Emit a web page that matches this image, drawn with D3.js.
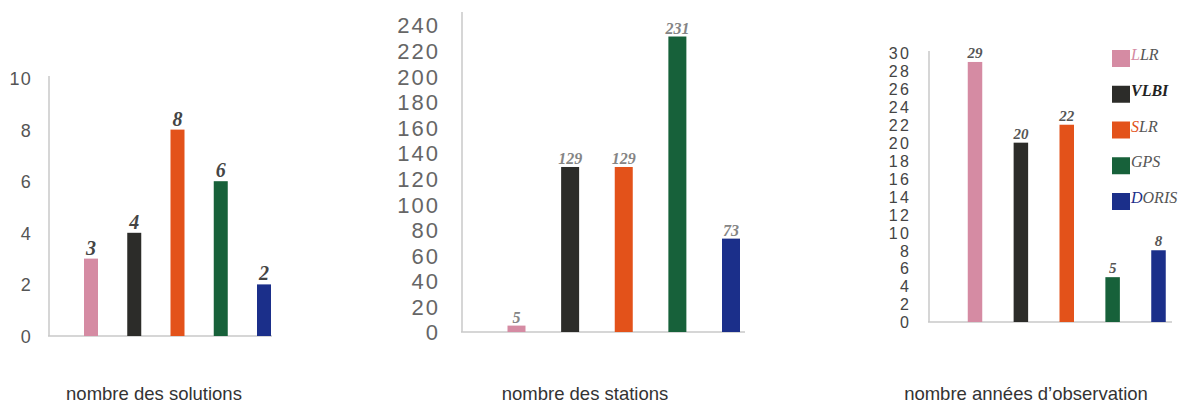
<!DOCTYPE html>
<html><head><meta charset="utf-8">
<script src="https://cdn.jsdelivr.net/npm/d3@7"></script>
<style>
html,body{margin:0;padding:0;background:#fff;}
svg{display:block;}
</style></head>
<body>
<script>
// ---- data ----
const categories = ["LLR", "VLBI", "SLR", "GPS", "DORIS"];
const solutions = [3, 4, 8, 6, 2];
const stations = [5, 129, 129, 231, 73];
const years = [29, 20, 22, 5, 8];
const solutionTicks = [0, 2, 4, 6, 8, 10];
const stationTicks = [0, 20, 40, 60, 80, 100, 120, 140, 160, 180, 200, 220, 240];
const yearTicks = [0, 2, 4, 6, 8, 10, 12, 14, 16, 18, 20, 22, 24, 26, 28, 30];
const titles = ["nombre des solutions", "nombre des stations", "nombre années d’observation"];

// ---- style ----
const colors = ["#d58ba3", "#2c2c29", "#e3521a", "#17613a", "#1b2f8a"];
const accent = [true, false, true, false, true];

const W = 1190, H = 405;
const svg = d3.select("body").append("svg").attr("width", W).attr("height", H);

const panels = [
  { values: solutions, ticks: solutionTicks, domain: [0, 10], axisX: 49, axisTop: 76, base: 336, top: 78,
    x0: 91, x1: 264, barW: 14, baseEnd: 272, tickGap: 17, tickSize: 18, tickSpace: 1.2, tickColor: "#555",
    valSize: 20, valColor: "#444", valGap: 4, title: titles[0], titleX: 154 },
  { values: stations, ticks: stationTicks, domain: [0, 240], axisX: 462, axisTop: 12, base: 332, top: 25,
    x0: 516.5, x1: 731, barW: 18, baseEnd: 745, tickGap: 22, tickSize: 22, tickSpace: 2, tickColor: "#666",
    valSize: 16, valColor: "#858585", valGap: 3, title: titles[1], titleX: 585 },
  { values: years, ticks: yearTicks, domain: [0, 30], axisX: 929, axisTop: 51, base: 322, top: 53,
    x0: 975, x1: 1158.5, barW: 14.5, baseEnd: 1172, tickGap: 18, tickSize: 16, tickSpace: 2.2, tickColor: "#444",
    valSize: 15, valColor: "#555", valGap: 4, title: titles[2], titleX: 1026 }
];

panels.forEach(p => {
  const g = svg.append("g");
  const y = d3.scaleLinear().domain(p.domain).range([p.base, p.top]);
  const x = d3.scalePoint().domain(categories).range([p.x0, p.x1]);

  const ax = g.append("g").attr("transform", `translate(${p.axisX - p.tickGap},0)`)
    .call(d3.axisLeft(y).tickValues(p.ticks).tickSize(0).tickPadding(0));
  ax.select(".domain").remove();
  ax.selectAll("text")
    .attr("fill", p.tickColor)
    .style("font-family", "'Liberation Sans', Arial, sans-serif")
    .style("font-size", p.tickSize + "px")
    .style("letter-spacing", p.tickSpace + "px")
    .attr("dy", "0.36em");

  g.append("line").attr("x1", p.axisX).attr("x2", p.axisX).attr("y1", p.axisTop).attr("y2", p.base)
    .attr("stroke", "#c8c8c8").attr("stroke-width", 1.5);
  g.append("line").attr("x1", p.axisX - 1).attr("x2", p.baseEnd).attr("y1", p.base).attr("y2", p.base)
    .attr("stroke", "#c8c8c8").attr("stroke-width", 1.5);

  g.selectAll("rect.bar").data(p.values).join("rect")
    .attr("class", "bar")
    .attr("x", (d, i) => x(categories[i]) - p.barW / 2)
    .attr("width", p.barW)
    .attr("y", d => y(d))
    .attr("height", d => y(0) - y(d))
    .attr("fill", (d, i) => colors[i]);

  g.selectAll("text.val").data(p.values).join("text")
    .attr("class", "val")
    .attr("x", (d, i) => x(categories[i]))
    .attr("y", d => y(d) - p.valGap)
    .attr("text-anchor", "middle")
    .attr("fill", p.valColor)
    .style("font-family", "'Liberation Serif', 'Times New Roman', serif")
    .style("font-style", "italic")
    .style("font-weight", "bold")
    .style("font-size", p.valSize + "px")
    .text(d => d);

  g.append("text").attr("x", p.titleX).attr("y", 400).attr("text-anchor", "middle")
    .attr("fill", "#333")
    .style("font-family", "'Liberation Sans', Arial, sans-serif")
    .style("font-size", "18.5px")
    .text(p.title);
});

// legend
const leg = svg.append("g").attr("transform", "translate(1112,50)");
const legY = d3.scalePoint().domain(categories).range([0, 143]);
categories.forEach((c, i) => {
  const gi = leg.append("g").attr("transform", `translate(0,${legY(c)})`);
  gi.append("rect").attr("width", 18).attr("height", 17).attr("fill", colors[i]);
  const t = gi.append("text").attr("x", 19).attr("y", 10)
    .style("font-family", "'Liberation Serif', 'Times New Roman', serif")
    .style("font-style", "italic")
    .style("font-size", "16px")
    .style("font-weight", c === "VLBI" ? "bold" : "normal")
    .attr("fill", c === "VLBI" ? "#222" : "#555");
  if (accent[i]) {
    t.append("tspan").attr("fill", colors[i]).text(c[0]);
    t.append("tspan").text(c.slice(1));
  } else {
    t.text(c);
  }
});
</script>
</body></html>
